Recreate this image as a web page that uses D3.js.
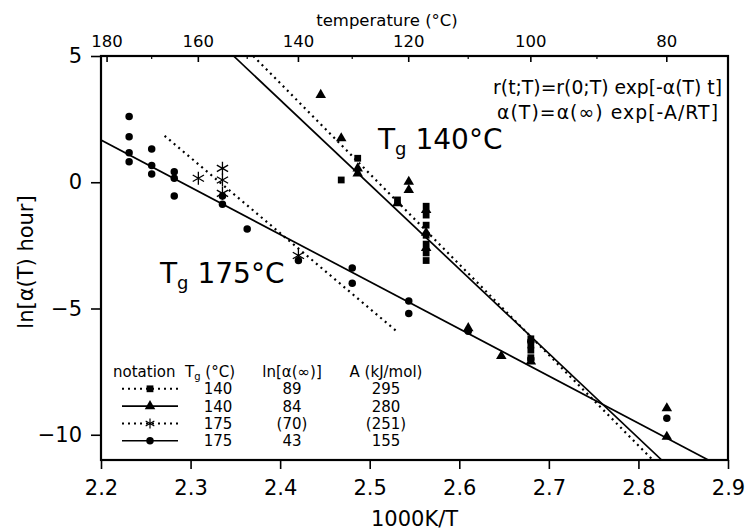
<!DOCTYPE html>
<html><head><meta charset="utf-8">
<script src="https://cdn.jsdelivr.net/npm/d3@7"></script>
<style>
body{margin:0;background:#fff}
svg{display:block}
text{font-family:"DejaVu Sans",Arial,sans-serif;fill:#000}
</style>
</head><body>
<svg id="c" width="747" height="531"></svg>
<script>
// ---------- data ----------
const xTicks = [2.2, 2.3, 2.4, 2.5, 2.6, 2.7, 2.8, 2.9];
const yTicks = [5, 0, -5, -10];
const tempTicks = [180, 160, 140, 120, 100, 80];
const tempMinor = [170, 150, 130, 110, 90];

// Tg 140 : squares (dotted fit)
const sqX = [2.4682, 2.4866, 2.531, 2.563, 2.563, 2.563, 2.563, 2.563, 2.563, 2.563, 2.6799, 2.6799, 2.6799, 2.6799];
const sqY = [0.09, 0.95, -0.70, -0.95, -1.3, -1.7, -2.1, -2.45, -2.8, -3.1, -6.2, -6.45, -6.65, -6.95];
// Tg 140 : triangles (solid fit)
const triX = [2.4453, 2.4682, 2.4866, 2.4866, 2.531, 2.5436, 2.5436, 2.563, 2.563, 2.563, 2.61, 2.6469, 2.6799, 2.8317, 2.8317];
const triY = [3.46, 1.74, 0.55, 0.35, -0.83, 0.02, -0.31, -1.1, -2.0, -2.6, -5.78, -6.88, -7.1, -8.95, -10.08];
// Tg 175 : asterisks (dotted fit)
const starX = [2.3087, 2.3356, 2.3356, 2.3356, 2.4204];
const starY = [0.16, 0.55, 0.09, -0.44, -2.9];
// Tg 175 : circles (solid fit)
const circX = [2.2314, 2.2314, 2.2314, 2.2314, 2.2566, 2.2566, 2.2566, 2.2818, 2.2818, 2.2818, 2.3356, 2.3356, 2.3632, 2.4204, 2.4805, 2.4805, 2.5436, 2.5436, 2.61, 2.6799, 2.6799, 2.8317];
const circY = [2.60, 1.80, 1.17, 0.81, 1.32, 0.66, 0.33, 0.42, 0.16, -0.54, -0.54, -0.87, -1.85, -3.1, -3.4, -4.0, -4.7, -5.2, -5.9, -6.3, -7.0, -9.35];

// fitted lines (end points)
const fitSqX = [2.370, 2.816], fitSqY = [5, -11];
const fitTriX = [2.348, 2.826], fitTriY = [5, -11];
const fitStarX = [2.271, 2.530], fitStarY = [1.84, -5.9];
const fitCircX = [2.200, 2.878], fitCircY = [1.67, -11];

// legend table
const legTg = ["140", "140", "175", "175"];
const legLnA = ["89", "84", "(70)", "43"];
const legA = ["295", "280", "(251)", "155"];

// ---------- drawing ----------
const svg = d3.select("#c");
const L = 101, R = 728, T = 56, B = 460;
const x = d3.scaleLinear().domain([2.2, 2.9]).range([L, R]);
const y = d3.scaleLinear().domain([-11, 5]).range([B, T]);
const toInvK = t => 1000 / (t + 273.15);

// frame
svg.append("rect").attr("x", L).attr("y", T).attr("width", R - L).attr("height", B - T)
  .attr("fill", "none").attr("stroke", "#000").attr("stroke-width", 2.2);

// bottom axis
const gx = svg.append("g").attr("transform", `translate(0,${B})`)
  .call(d3.axisBottom(x).tickValues(xTicks).tickSize(9).tickPadding(11).tickFormat(d3.format(".1f")));
gx.select(".domain").remove();
gx.selectAll("line").attr("stroke-width", 1.6);
gx.selectAll("text").attr("font-size", 21);

// left axis
const gy = svg.append("g").attr("transform", `translate(${L},0)`)
  .call(d3.axisLeft(y).tickValues(yTicks).tickSize(10).tickPadding(9).tickFormat(d3.format("d")));
gy.select(".domain").remove();
gy.selectAll("line").attr("stroke-width", 1.6);
gy.selectAll("text").attr("font-size", 21);

// top temperature axis
svg.selectAll(".tmaj").data(tempTicks).join("line").attr("class", "tmaj")
  .attr("x1", d => x(toInvK(d))).attr("x2", d => x(toInvK(d)))
  .attr("y1", T).attr("y2", T + 6).attr("stroke", "#000").attr("stroke-width", 1.6);
svg.selectAll(".tmin").data(tempMinor).join("line").attr("class", "tmin")
  .attr("x1", d => x(toInvK(d))).attr("x2", d => x(toInvK(d)))
  .attr("y1", T).attr("y2", T + 3).attr("stroke", "#000").attr("stroke-width", 1.2);
svg.selectAll(".tlab").data(tempTicks).join("text").attr("class", "tlab")
  .attr("x", d => x(toInvK(d))).attr("y", 47).attr("text-anchor", "middle")
  .attr("font-size", 16.5).text(d => d);
svg.append("text").attr("x", 387).attr("y", 26).attr("text-anchor", "middle")
  .attr("font-size", 16.5).text("temperature (°C)");

// axis titles
svg.append("text").attr("x", (L + R) / 2).attr("y", 526).attr("text-anchor", "middle")
  .attr("font-size", 21).text("1000K/T");
svg.append("text").attr("transform", "translate(33,262) rotate(-90)").attr("text-anchor", "middle")
  .attr("font-size", 21).text("ln[α(T) hour]");

// fit lines
const line = d3.line().x(d => x(d[0])).y(d => y(d[1]));
svg.append("clipPath").attr("id", "clp").append("rect")
  .attr("x", L).attr("y", T).attr("width", R - L).attr("height", B - T);
const plot = svg.append("g").attr("clip-path", "url(#clp)");
const fits = [
  {xs: fitSqX, ys: fitSqY, dash: "2,4"},
  {xs: fitTriX, ys: fitTriY, dash: null},
  {xs: fitStarX, ys: fitStarY, dash: "2,4"},
  {xs: fitCircX, ys: fitCircY, dash: null}
];
fits.forEach(f => {
  plot.append("path").datum(d3.zip(f.xs, f.ys)).attr("d", line)
    .attr("fill", "none").attr("stroke", "#000")
    .attr("stroke-width", f.dash ? 2.2 : 1.7)
    .attr("stroke-dasharray", f.dash);
});

// markers
const symSq = d3.symbol().type(d3.symbolSquare).size(46)();
const symTri = d3.symbol().type(d3.symbolTriangle).size(48)();
const symCirc = d3.symbol().type(d3.symbolCircle).size(44)();
const star = r => {
  let p = "";
  [90, 30, 150].forEach(a => {
    const c = Math.cos(a * Math.PI / 180) * r, s = Math.sin(a * Math.PI / 180) * r;
    p += `M${-c},${s}L${c},${-s}`;
  });
  return p;
};
function drawFilled(xs, ys, sym) {
  plot.append("g").selectAll("path").data(d3.zip(xs, ys)).join("path")
    .attr("d", sym).attr("transform", d => `translate(${x(d[0])},${y(d[1])})`).attr("fill", "#000");
}
drawFilled(sqX, sqY, symSq);
drawFilled(triX, triY, symTri);
drawFilled(circX, circY, symCirc);
plot.append("g").selectAll("path").data(d3.zip(starX, starY)).join("path")
  .attr("d", star(6.5)).attr("transform", d => `translate(${x(d[0])},${y(d[1])})`)
  .attr("fill", "none").attr("stroke", "#000").attr("stroke-width", 1.3);

// annotations
svg.append("text").attr("x", 722).attr("y", 94).attr("text-anchor", "end").attr("font-size", 18.8)
  .text("r(t;T)=r(0;T) exp[-α(T) t]");
svg.append("text").attr("x", 497).attr("y", 119).attr("font-size", 18.8)
  .attr("textLength", 221).attr("lengthAdjust", "spacing")
  .text("α(T)=α(∞) exp[-A/RT]");

const tg = (tx, ty, val) => {
  const t = svg.append("text").attr("x", tx).attr("y", ty).attr("font-size", 28);
  t.append("tspan").text("T");
  t.append("tspan").attr("font-size", 18).attr("dy", 6).text("g");
  t.append("tspan").attr("dy", -6).text(" " + val + "°C");
};
tg(378, 149, "140");
tg(160, 283, "175");

// legend
const legY0 = 377, legDy = 17.3, legFs = 15;
const hdr = svg.append("text").attr("y", legY0).attr("font-size", legFs);
hdr.append("tspan").attr("x", 113).text("notation");
hdr.append("tspan").attr("x", 185).text("T");
hdr.append("tspan").attr("font-size", 10).attr("dy", 3).text("g");
hdr.append("tspan").attr("dy", -3).text(" (°C)");
svg.append("text").attr("x", 292).attr("y", legY0).attr("font-size", legFs).attr("text-anchor", "middle").text("ln[α(∞)]");
svg.append("text").attr("x", 386).attr("y", legY0).attr("font-size", legFs).attr("text-anchor", "middle").text("A (kJ/mol)");

const legSyms = [{d: symSq, dash: "2,4", fill: true}, {d: symTri, dash: null, fill: true},
  {d: star(5), dash: "2,4", fill: false}, {d: symCirc, dash: null, fill: true}];
legTg.forEach((v, i) => {
  const by = legY0 + legDy * (i + 1);
  const cy = by - 5.5;
  svg.append("line").attr("x1", 122).attr("x2", 178).attr("y1", cy).attr("y2", cy)
    .attr("stroke", "#000").attr("stroke-width", legSyms[i].dash ? 2 : 1.6)
    .attr("stroke-dasharray", legSyms[i].dash);
  const m = svg.append("path").attr("d", legSyms[i].d).attr("transform", `translate(150,${cy})`);
  if (legSyms[i].fill) m.attr("fill", "#000");
  else m.attr("fill", "none").attr("stroke", "#000").attr("stroke-width", 1.2);
  svg.append("text").attr("x", 218).attr("y", by).attr("text-anchor", "middle").attr("font-size", legFs).text(v);
  svg.append("text").attr("x", 292).attr("y", by).attr("text-anchor", "middle").attr("font-size", legFs).text(legLnA[i]);
  svg.append("text").attr("x", 386).attr("y", by).attr("text-anchor", "middle").attr("font-size", legFs).text(legA[i]);
});
</script>
</body></html>
